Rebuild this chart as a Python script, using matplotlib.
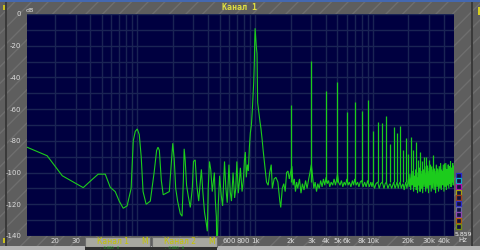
import matplotlib
matplotlib.use("Agg")
from matplotlib import pyplot as plt
from matplotlib.patches import Rectangle
from matplotlib.ticker import LogLocator, NullFormatter, MultipleLocator

W, H = 480, 250

# spectrum below 2 kHz (Hz, dB)
low_f = [11.6, 17.2, 23.1, 34.8, 41.5, 46.6, 53.5, 59, 65, 70.3, 76, 82, 88.7,
         92.5, 96.2, 100, 104, 108, 112, 119, 129, 139, 146, 150, 154, 160,
         166, 176, 187, 194, 200, 206, 212, 220, 232, 240, 246, 250, 255, 262,
         271, 282, 293, 300, 310, 320, 332, 343, 350, 360, 372, 385, 393, 400,
         410, 420, 433, 445, 451, 460, 469, 473, 477, 487, 500, 515, 530, 550,
         565, 580, 600, 615, 630, 650, 670, 685, 700, 720, 735, 750, 775, 795,
         812, 826, 842, 859, 876, 894, 911, 930, 948, 962, 973, 985, 992, 1000,
         1010, 1022, 1038, 1051, 1075, 1100, 1120, 1150, 1170, 1190, 1220, 1250,
         1290, 1330, 1370, 1400, 1450, 1500, 1560, 1620, 1650, 1700, 1750, 1800,
         1850, 1900, 1950]
low_db = [-84, -89.4, -102, -109.5, -104.3, -101, -101, -109.3, -112, -118,
          -122.5, -121, -110, -80, -74, -72.5, -76, -90, -112, -120, -118, -100,
          -86, -84, -86, -105, -114, -113, -112, -95, -81.5, -92, -110, -118,
          -126, -127.5, -105, -85, -92, -108, -115, -122, -110, -93, -92, -108,
          -118, -106, -98, -112, -125, -132, -137, -110, -93, -98, -112, -104,
          -100, -118, -128, -150, -150, -120, -102, -114, -121, -93, -110, -119,
          -95, -112, -118, -100, -116, -110, -93, -113, -106, -97, -112, -105,
          -92, -87, -103, -95, -99, -84, -75, -70, -60, -50, -43, -30, -18, -9,
          -14, -20, -25, -56, -62, -68, -72, -80, -86, -91, -98, -106, -108,
          -100, -95, -110, -104, -103, -106, -118, -122, -110, -107, -112, -100,
          -99, -104]

# noise floor 2 kHz .. 48.5 kHz (Hz, dB)
floor_f = [2000, 2050, 2100, 2150, 2200, 2250, 2300, 2380, 2450, 2520, 2600,
           2680, 2760, 2850, 2920, 3000, 3080, 3150, 3230, 3320, 3400, 3500,
           3600, 3700, 3800, 3900, 4000, 4100, 4200, 4300, 4420, 4550, 4680,
           4800, 4900, 5000, 5100, 5250, 5400, 5550, 5700, 5850, 6000, 6150,
           6300, 6500, 6700, 6850, 7000, 7200, 7400, 7600, 7800, 8000, 8250,
           8500, 8750, 9000, 9300, 9600, 9800, 10000, 10300, 10600, 11000,
           11300, 11600, 12000, 12400, 12700, 13000, 13400, 13700, 14000, 14400,
           14700, 15000, 15400, 15700, 16000, 16400, 16700, 17000, 17400, 17700,
           18000, 18400, 18700, 19000, 19400, 19700,
           20000, 20300, 20600, 20900, 21200, 21500, 21800, 22100, 22400, 22700,
           23000, 23300, 23600, 23900, 24200, 24500, 24800, 25100, 25400, 25700,
           26000, 26400, 26800, 27200, 27600, 28000, 28400, 28800, 29200, 29600,
           30000, 30400, 30800, 31200, 31600, 32000, 32500, 33000, 33500, 34000,
           34500, 35000, 35500, 36000, 36500, 37000, 37500, 38000, 38500, 39000,
           39500, 40000, 40500, 41000, 41500, 42000, 42500, 43000, 43500, 44000,
           44500, 45000, 45500, 46000, 46500, 47000, 47500, 48000, 48500]
floor_db = [-100, -96, -108, -104, -112, -106, -110, -104, -113, -107, -111,
            -105, -110, -104, -100, -95, -103, -110, -106, -112, -107, -110,
            -105, -109, -104, -108, -103, -107, -105, -109, -106, -108, -104,
            -108, -105, -101, -106, -108, -105, -109, -106, -108, -104, -108,
            -106, -109, -105, -108, -104, -108, -106, -109, -106, -105, -109,
            -106, -109, -105, -109, -106, -109, -106, -110, -107, -106,
            -110, -107, -106, -110, -107, -106, -110, -108, -107, -110,
            -108, -106, -110, -108, -106, -110, -107, -106, -110, -108,
            -107, -111, -108, -106, -110, -107,
            -104, -109, -101, -111, -103, -108, -99, -112, -102, -109,
            -98, -111, -103, -113, -100, -108, -97, -112, -101, -110,
            -99, -113, -98, -109, -96, -112, -100, -110, -97, -113,
            -99, -108, -95, -112, -98, -110, -96, -111, -99, -113,
            -95, -109, -98, -112, -96, -110, -94, -111, -99, -108,
            -95, -112, -97, -109, -94, -111, -98, -108, -95, -110,
            -96, -107, -93, -109, -97, -106, -94, -108, -96]

# harmonics of 1 kHz (Hz, peak dB)
harm_f = [2000, 3000, 4000, 5000, 6000, 7000, 8000, 9000, 10000, 11000, 12000,
          13000, 14000, 15000, 16000, 17000, 18000, 19000, 20000, 21000, 22000,
          23000, 24000, 25000, 26000, 27000, 28000, 29000, 30000, 31000, 32000,
          33000, 34000, 35000, 36000, 37000, 38000, 39000, 40000, 41000, 42000,
          43000, 44000, 45000, 46000, 47000]
harm_db = [-57.4, -29.6, -48.3, -43, -61.6, -55.3, -61, -54.2, -74, -68, -69,
           -64.3, -82, -71.5, -74.8, -70.6, -85.8, -78.4, -88, -77.8, -86, -81,
           -92, -87, -93, -90, -90, -95, -92, -96, -89, -97, -95, -97, -99, -96,
           -98, -97, -94, -99, -98, -97, -96, -99, -98, -97]
harm_base = -106

xtick_vals = [20, 30, 600, 800, 1000, 2000, 3000, 4000, 5000, 6000, 8000,
              10000, 20000, 30000, 40000]
xtick_text = ["20", "30", "600", "800", "1k", "2k", "3k", "4k", "5k", "6k",
              "8k", "10k", "20k", "30k", "40k"]
ytick_vals = [0, -20, -40, -60, -80, -100, -120, -140]

GREEN = "#1ccc1c"
LBL = "#dcdcdc"


def fx(x):
    return x / W


def fy(y):
    return 1 - y / H


fig = plt.figure(figsize=(W / 100, H / 100), dpi=100)
fig.patch.set_facecolor("#5e5e5e")

# striped grey background
fig.add_artist(Rectangle((0, 0), 1, 1, transform=fig.transFigure,
                         facecolor="#5e5e5e", edgecolor="#6e6e6e", hatch="//",
                         lw=0, zorder=-10))
fig.add_artist(Rectangle((0, fy(2)), 1, 2 / H, transform=fig.transFigure,
                         facecolor="#4468b0", lw=0, zorder=-5))
fig.add_artist(Rectangle((fx(5), 0), 1.5 / W, fy(2), transform=fig.transFigure,
                         facecolor="#3a3a3a", lw=0, zorder=-5))
fig.add_artist(Rectangle((fx(471), 0), 1.5 / W, fy(2), transform=fig.transFigure,
                         facecolor="#3a3a3a", lw=0, zorder=-5))
fig.add_artist(Rectangle((fx(477.5), fy(15)), 2.5 / W, 8 / H,
                         transform=fig.transFigure, facecolor="#d8d020", lw=0))
fig.add_artist(Rectangle((fx(2.5), fy(10)), 2 / W, 5 / H,
                         transform=fig.transFigure, facecolor="#c8c020", lw=0))
fig.add_artist(Rectangle((fx(2.5), fy(243)), 2 / W, 5 / H,
                         transform=fig.transFigure, facecolor="#c8c020", lw=0))
fig.add_artist(Rectangle((0, 0), 1, 4 / H, transform=fig.transFigure,
                         facecolor="#b4b4b4", lw=0, zorder=-5))

ax = fig.add_axes([fx(27), 14 / H, 427 / W, 222 / H])
ax.set_facecolor("#000040")
ax.set_xscale("log")
ax.set_xlim(11.6, 48700)
ax.set_ylim(-140, 0)

ax.plot(low_f + floor_f, low_db + floor_db, color=GREEN, lw=0.8,
        solid_joinstyle="miter")
ax.vlines(harm_f, harm_base, harm_db, color=GREEN, lw=0.9)

ax.set_xticks(xtick_vals)
ax.set_xticklabels(xtick_text)
ax.xaxis.set_minor_locator(LogLocator(base=10, subs=range(1, 10), numticks=20))
ax.xaxis.set_minor_formatter(NullFormatter())
ax.set_yticks(ytick_vals)
ax.set_yticklabels([str(v) for v in ytick_vals])
ax.yaxis.set_minor_locator(MultipleLocator(10))
ax.grid(which="both", color="#1a2454", lw=1.0)
ax.set_axisbelow(True)
ax.tick_params(which="both", length=0, colors=LBL, labelsize=5)
ax.tick_params(axis="x", pad=1.5)
ax.tick_params(axis="y", pad=4)
for s in ax.spines.values():
    s.set_visible(False)

fig.text(fx(240), fy(8), "Канал 1", color="#e0e040", family="DejaVu Sans Mono",
         weight="bold", size=6, ha="center", va="center")
fig.text(fx(30), fy(10), "dB", color="#e8e8e8", size=4.5, ha="center",
         va="center")
fig.text(fx(463), fy(240.5), "Hz", color=LBL, size=5, ha="center", va="center")
fig.text(fx(463), fy(234), "5.859", color="#f0f0f0", size=4.5, ha="center",
         va="center")

sq_colors = ["#2828d0", "#10a8c8", "#b010b0", "#a8a010", "#a04018",
             "#3030c8", "#6868a8", "#9048b0", "#b06008", "#709010"]
for i, c in enumerate(sq_colors):
    fig.add_artist(Rectangle((fx(455.5), fy(177.5 + i * 5.7)), 5.5 / W, 5 / H,
                             transform=fig.transFigure, facecolor="#101040",
                             edgecolor=c, lw=0.9))

# channel panels over the low-frequency labels
for x0, name in [(85, "Канал 1"), (152, "Канал 2")]:
    fig.add_artist(Rectangle((fx(x0), fy(246.5)), 65 / W, 10 / H,
                             transform=fig.transFigure, facecolor="#a8a8a0",
                             edgecolor="#6c6c6c", lw=0.8, zorder=5))
    fig.text(fx(x0 + 28), fy(241.5), name, color="#c4c400", size=5.5,
             ha="center", va="center", zorder=6)
    fig.text(fx(x0 + 60), fy(241.5), "M", color="#c4c400", size=5.5,
             ha="center", va="center", zorder=6)
fig.add_artist(Rectangle((fx(85), 0), 132 / W, 3.5 / H,
                         transform=fig.transFigure, facecolor="#303030",
                         lw=0, zorder=5))
fig.text(fx(100), fy(248.2), "-  0.000   0", color="#20b020", size=2.5,
         va="center", zorder=6)
fig.text(fx(165), fy(248.2), "-  0.000   0", color="#20b020", size=2.5,
         va="center", zorder=6)

fig.savefig("out.png", dpi=100, facecolor=fig.get_facecolor())
